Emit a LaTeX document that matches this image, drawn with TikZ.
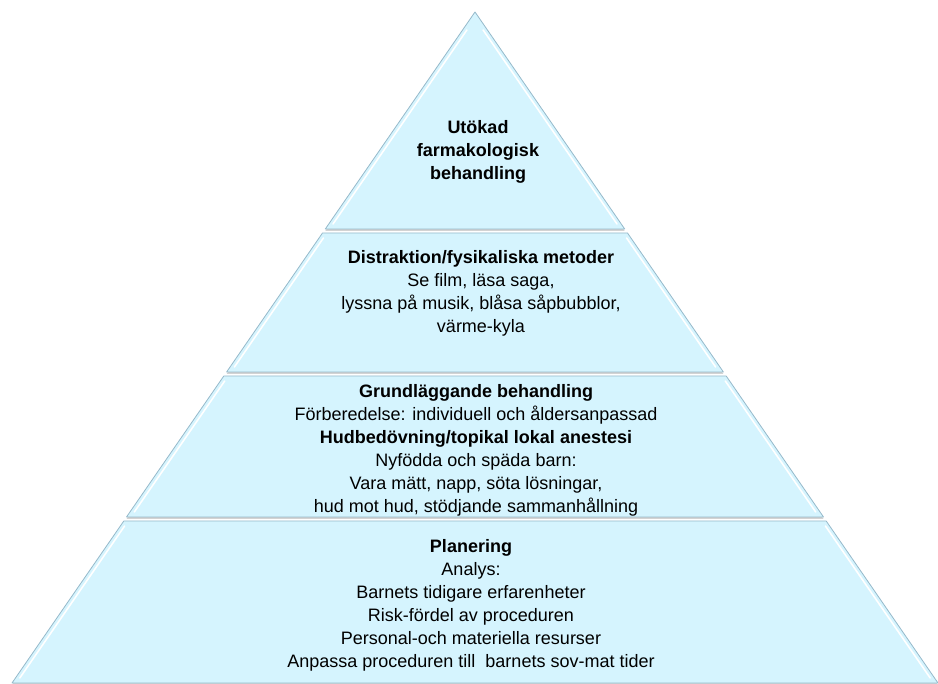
\documentclass[tikz,border=0pt]{standalone}
\usepackage{fontspec}
\setmainfont{Liberation Sans}
\usetikzlibrary{shadows}
\definecolor{tierfill}{RGB}{213,244,254}
\definecolor{tieredge}{RGB}{150,185,202}
\tikzset{
  tier/.style={fill=tierfill, draw=tieredge, line width=0.8pt, line join=round,
    drop shadow={shadow xshift=0pt, shadow yshift=-2pt, opacity=0.35, fill=gray}},
  shine/.style={draw=white, line width=1.6pt, line cap=round},
  tiertext/.style={align=center, font=\fontsize{18}{23}\selectfont, inner sep=0pt},
}
\begin{document}
\begin{tikzpicture}[x=1pt,y=-1pt]
\useasboundingbox (0,0) rectangle (938,684);
% tiers, top to bottom
\draw[tier] (475,12) -- (624.7,229) -- (325.3,229) -- cycle;
\draw[tier] (322.5,233) -- (627.5,233) -- (723.4,372) -- (226.6,372) -- cycle;
\draw[tier] (223.8,376) -- (726.2,376) -- (823.5,517) -- (126.5,517) -- cycle;
\draw[tier] (123.8,521) -- (826.2,521) -- (938,683) -- (12,683) -- cycle;
% highlights along the sides
\draw[shine] (466.9,30) -- (333,224);
\draw[shine] (483.1,30) -- (617,224);
\draw[shine] (323.4,238) -- (234.4,367);
\draw[shine] (626.6,238) -- (715.6,367);
\draw[shine] (224.7,381) -- (134.3,512);
\draw[shine] (725.3,381) -- (815.7,512);
\draw[shine] (124.6,526) -- (19.8,678);
\draw[shine] (825.4,526) -- (930.2,678);
% texts
\node[tiertext] (utokad) at (478,152) {\textbf{Utökad}\\\textbf{farmakologisk}\\\textbf{behandling}};
\node[tiertext] (distraktion) at (481,293) {\textbf{Distraktion/fysikaliska metoder}\\Se film, läsa saga,\\lyssna på musik, blåsa såpbubblor,\\värme-kyla};
\node[tiertext] (grund) at (476,450) {\textbf{Grundläggande behandling}\\Förberedelse: individuell och åldersanpassad\\\textbf{Hudbedövning/topikal lokal anestesi}\\Nyfödda och späda barn:\\Vara mätt, napp, söta lösningar,\\hud mot hud, stödjande sammanhållning};
\node[tiertext] (planering) at (471,605.5) {\textbf{Planering}\\Analys:\\Barnets tidigare erfarenheter\\Risk-fördel av proceduren\\Personal-och materiella resurser\\Anpassa proceduren till\ \ barnets sov-mat tider};
\end{tikzpicture}
\end{document}
